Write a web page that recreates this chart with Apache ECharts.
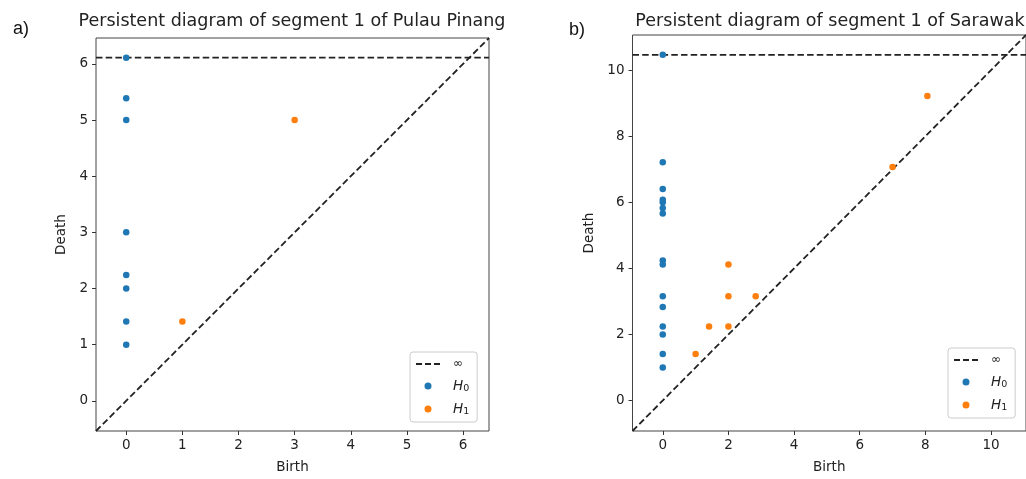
<!DOCTYPE html>
<html><head><meta charset="utf-8">
<script src="https://cdn.jsdelivr.net/npm/echarts@6/dist/echarts.min.js"></script>
<style>html,body{margin:0;padding:0;background:#fff}#c{width:1026px;height:479px}</style>
</head><body><div id="c"></div>
<script>
// ---------------- data ----------------
const panelLabels = ['a)', 'b)'];
const titles = ['Persistent diagram of segment 1 of Pulau Pinang', 'Persistent diagram of segment 1 of Sarawak'];
const legendNames = ['∞', 'H0', 'H1'];
const axisNames = ['Birth', 'Death'];

// Panel a) Pulau Pinang (first H0 point has infinite death, drawn on the ∞ line)
const pinangH0Birth = [0, 0, 0, 0, 0, 0, 0, 0];
const pinangH0Death = [6.112, 5.39, 5.0, 3.0, 2.24, 2.0, 1.41, 1.0];
const pinangH1Birth = [1.0, 3.0];
const pinangH1Death = [1.41, 5.0];
const pinangRange = [-0.5385, 6.462];
const pinangInf = 6.112;
const pinangTicks = [0, 1, 2, 3, 4, 5, 6];

// Panel b) Sarawak
const sarawakH0Birth = [0, 0, 0, 0, 0, 0, 0, 0, 0, 0, 0, 0, 0, 0, 0];
const sarawakH0Death = [10.465, 7.21, 6.40, 6.08, 6.0, 5.83, 5.66, 4.24, 4.12, 3.16, 2.83, 2.24, 2.0, 1.41, 1.0];
const sarawakH1Birth = [1.0, 1.41, 2.0, 2.0, 2.0, 2.83, 7.0, 8.06];
const sarawakH1Death = [1.41, 2.24, 2.24, 3.16, 4.12, 3.16, 7.07, 9.22];
const sarawakRange = [-0.922, 11.064];
const sarawakInf = 10.465;
const sarawakTicks = [0, 2, 4, 6, 8, 10];

// ---------------- styling / layout ----------------
const BLUE = '#1f77b4', ORANGE = '#ff7f0e', INK = '#222';
const FONT = 'DejaVu Sans';
const grids = [
  { left: 96, top: 38, width: 393, height: 397 },
  { left: 632.5, top: 35, width: 395.5, height: 397 }
];
const yNameGaps = [28, 36];
const legendPos = [{ left: 410, top: 352 }, { left: 948, top: 348 }];
const titleCenters = [292, 830];
const DASH_ICON = 'path://M0,0h6v2h-6Z M9,0h6v2h-6Z M18,0h6v2h-6Z';

const zip = (a, b) => a.map((v, i) => [v, b[i]]);

function makeX(idx, range, ticks) {
  return {
    type: 'value', gridIndex: idx, min: range[0], max: range[1], position: 'bottom',
    name: axisNames[0], nameLocation: 'middle', nameGap: 29,
    nameTextStyle: { fontFamily: FONT, fontSize: 13.5, color: INK },
    axisLine: { show: false, onZero: false },
    axisTick: { show: true, inside: false, length: 4, customValues: ticks, lineStyle: { color: '#333', width: 1 } },
    axisLabel: { customValues: ticks, margin: 7, fontFamily: FONT, fontSize: 13.5, color: INK },
    splitLine: { show: false }
  };
}
function makeY(idx, range, ticks) {
  return {
    type: 'value', gridIndex: idx, min: range[0], max: range[1], position: 'left',
    name: axisNames[1], nameLocation: 'middle', nameGap: yNameGaps[idx],
    nameTextStyle: { fontFamily: FONT, fontSize: 13.5, color: INK },
    axisLine: { show: false, onZero: false },
    axisTick: { show: true, inside: false, length: 4, customValues: ticks, lineStyle: { color: '#333', width: 1 } },
    axisLabel: { customValues: ticks, margin: 8, fontFamily: FONT, fontSize: 13.5, color: INK },
    splitLine: { show: false }
  };
}
const dashStyle = { color: INK, width: 1.8, type: [6.5, 3.2] };
function panelSeries(idx, range, inf, h0b, h0d, h1b, h1d) {
  return [
    { type: 'line', name: 'diag', xAxisIndex: idx, yAxisIndex: idx, data: [[range[0], range[0]], [range[1], range[1]]],
      symbol: 'none', lineStyle: dashStyle, silent: true, z: 1 },
    { type: 'line', name: legendNames[0], xAxisIndex: idx, yAxisIndex: idx, data: [[range[0], inf], [range[1], inf]],
      symbol: 'none', lineStyle: dashStyle, itemStyle: { color: INK }, silent: true, z: 2 },
    { type: 'scatter', name: legendNames[1], xAxisIndex: idx, yAxisIndex: idx, data: zip(h0b, h0d),
      symbolSize: 6.5, itemStyle: { color: BLUE, opacity: 1 }, z: 3 },
    { type: 'scatter', name: legendNames[2], xAxisIndex: idx, yAxisIndex: idx, data: zip(h1b, h1d),
      symbolSize: 6.5, itemStyle: { color: ORANGE, opacity: 1 }, z: 3 }
  ];
}
function makeLegend(idx) {
  return {
    orient: 'vertical', left: legendPos[idx].left, top: legendPos[idx].top,
    data: [
      { name: legendNames[0], icon: DASH_ICON, itemStyle: { color: INK } },
      { name: legendNames[1], icon: 'circle' },
      { name: legendNames[2], icon: 'circle' }
    ],
    selectedMode: false, symbolKeepAspect: true,
    itemWidth: 24, itemHeight: 7, itemGap: 7,
    padding: [5, 8, 5, 6],
    backgroundColor: 'rgba(255,255,255,0.8)', borderColor: '#ccc', borderWidth: 1, borderRadius: 3,
    formatter: n => n === '∞' ? '{p|}{t|∞}' : '{p|}{h|H}{s|' + n.slice(1) + '}',
    textStyle: {
      fontFamily: FONT, fontSize: 13.5, color: INK,
      rich: {
        p: { width: 8 },
        t: { fontFamily: FONT, fontSize: 12, color: INK, lineHeight: 17 },
        h: { fontFamily: FONT, fontStyle: 'italic', fontSize: 13.5, color: INK, lineHeight: 17 },
        s: { fontFamily: FONT, fontSize: 9.5, color: INK, lineHeight: 17, padding: [6, 0, 0, 0] }
      }
    }
  };
}

const option = {
  animation: false,
  backgroundColor: '#fff',
  title: [
    { text: titles[0], left: titleCenters[0], top: 12, textAlign: 'center', padding: 0,
      textStyle: { fontFamily: FONT, fontSize: 17.5, fontWeight: 'normal', color: INK } },
    { text: titles[1], left: titleCenters[1], top: 12, textAlign: 'center', padding: 0,
      textStyle: { fontFamily: FONT, fontSize: 17.5, fontWeight: 'normal', color: INK } },
    { text: panelLabels[0], left: 13, top: 20, padding: 0,
      textStyle: { fontFamily: 'Liberation Sans', fontSize: 18, fontWeight: 'normal', color: '#111' } },
    { text: panelLabels[1], left: 569, top: 21, padding: 0,
      textStyle: { fontFamily: 'Liberation Sans', fontSize: 18, fontWeight: 'normal', color: '#111' } }
  ],
  grid: grids.map(g => Object.assign({ show: true, borderColor: '#444', borderWidth: 1, backgroundColor: 'transparent', containLabel: false }, g)),
  xAxis: [makeX(0, pinangRange, pinangTicks), makeX(1, sarawakRange, sarawakTicks)],
  yAxis: [makeY(0, pinangRange, pinangTicks), makeY(1, sarawakRange, sarawakTicks)],
  legend: [makeLegend(0), makeLegend(1)],
  series: [
    ...panelSeries(0, pinangRange, pinangInf, pinangH0Birth, pinangH0Death, pinangH1Birth, pinangH1Death),
    ...panelSeries(1, sarawakRange, sarawakInf, sarawakH0Birth, sarawakH0Death, sarawakH1Birth, sarawakH1Death)
  ]
};
const chart = echarts.init(document.getElementById('c'), null, { renderer: 'canvas' });
chart.setOption(option);
</script></body></html>
